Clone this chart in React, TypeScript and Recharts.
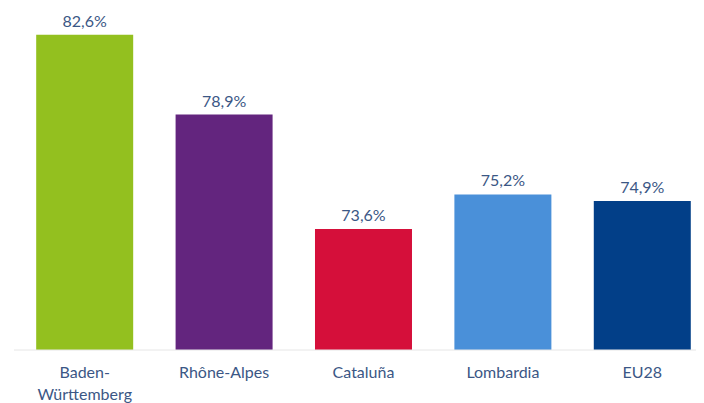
import React from "react";
import { BarChart, Bar, XAxis, YAxis, Cell, LabelList } from "recharts";

const regions = ["Baden-Württemberg", "Rhône-Alpes", "Cataluña", "Lombardia", "EU28"];
const tickLines = [["Baden-", "Württemberg"], ["Rhône-Alpes"], ["Cataluña"], ["Lombardia"], ["EU28"]];
const values = [82.6, 78.9, 73.6, 75.2, 74.9];
const colors = ["#93c01f", "#63257e", "#d50f3a", "#4a90d9", "#023f88"];

const data = regions.map((r, i) => ({ name: r, value: values[i], idx: i }));

const TEXT = "#3b5785";
const FONT = "Lato, 'Noto Sans', sans-serif";

const Tick = (props: any) => {
  const { x, y, payload } = props;
  const lines = tickLines[payload.index] || [String(payload.value)];
  return (
    <text x={x} y={y} textAnchor="middle" fill={TEXT} fontFamily={FONT} fontSize={16}>
      {lines.map((l: string, i: number) => (
        <tspan key={i} x={x} dy={i === 0 ? 20 : 22}>{l}</tspan>
      ))}
    </text>
  );
};

export default function App() {
  return (
    <div style={{ width: 696, height: 395 }}>
      <BarChart
        width={696}
        height={395}
        data={data}
        margin={{ top: 18, right: 0, left: 6, bottom: 5 }}
        barCategoryGap="15.2%"
      >
        <XAxis
          dataKey="name"
          axisLine={{ stroke: "#e6e6e6" }}
          tickLine={false}
          height={48}
          interval={0}
          padding={{ left: 1, right: -8 }}
          tick={<Tick />}
        />
        <YAxis hide domain={[68, 83]} allowDataOverflow />
        <Bar dataKey="value" isAnimationActive={false}>
          {data.map((d, i) => (
            <Cell key={i} fill={colors[i]} />
          ))}
          <LabelList
            dataKey="value"
            position="top"
            offset={8}
            fill={TEXT}
            fontFamily={FONT}
            fontSize={16}
            formatter={(v: any) => String(v.toFixed(1)).replace(".", ",") + "%"}
          />
        </Bar>
      </BarChart>
    </div>
  );
}
